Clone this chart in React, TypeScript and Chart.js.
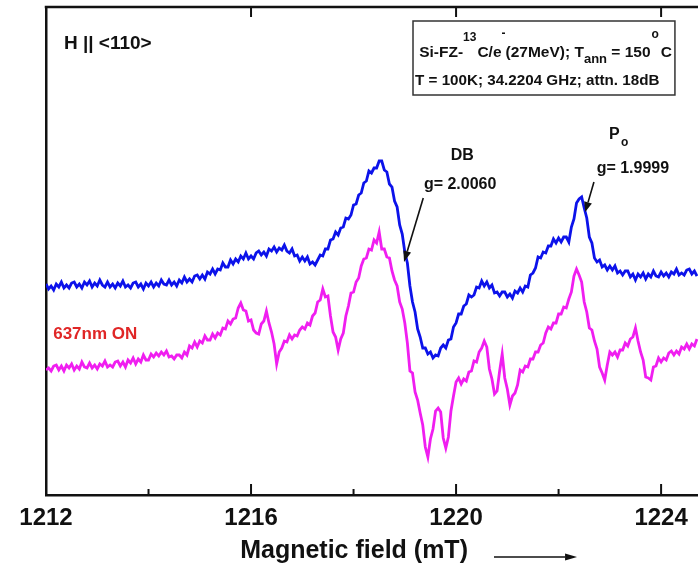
import React, { useEffect, useRef } from "react";
import { Chart, registerables } from "chart.js";

Chart.register(...registerables);

// Magnetic field axis (mT), 0.05 mT steps
const FIELD_START = 1212.0;
const FIELD_STEP = 0.05;
const X_MIN = 1212;
const X_MAX = 1224.72;
const Y_MIN = 0;
const Y_MAX = 488;
const MAJOR_TICKS = [1212, 1216, 1220, 1224];
const ALL_TICKS = [1212, 1214, 1216, 1218, 1220, 1222, 1224];

// EPR signal, dark (arbitrary units)
const darkSignal = [
  211, 206, 209, 205, 211, 208, 213, 207, 210, 207,
  212, 213, 208, 211, 207, 213, 210, 214, 208, 212,
  209, 215, 210, 208, 213, 208, 211, 207, 212, 209,
  214, 208, 210, 207, 212, 213, 208, 211, 206, 212,
  209, 213, 208, 212, 209, 215, 211, 210, 215, 210,
  213, 209, 215, 212, 218, 213, 216, 213, 219, 220,
  216, 220, 216, 223, 221, 226, 221, 226, 225, 232,
  228, 228, 235, 231, 236, 233, 239, 236, 242, 236,
  239, 236, 242, 244, 240, 243, 239, 246, 244, 248,
  243, 247, 245, 250, 244, 242, 246, 239, 240, 234,
  238, 234, 238, 231, 233, 230, 235, 240, 239, 246,
  246, 255, 256, 263, 260, 267, 268, 277, 276, 280,
  290, 291, 300, 302, 312, 314, 324, 322, 327, 327,
  334, 334, 325, 323, 311, 308, 294, 288, 270, 261,
  243, 232, 209, 193, 183, 166, 158, 147, 147, 141,
  143, 137, 140, 139, 147, 150, 147, 155, 156, 168,
  172, 181, 181, 189, 191, 200, 198, 200, 208, 207,
  214, 209, 213, 207, 210, 202, 203, 199, 203, 203,
  198, 201, 197, 204, 202, 207, 203, 209, 208, 220,
  222, 227, 238, 237, 243, 242, 249, 249, 256, 252,
  257, 253, 258, 258, 253, 268, 276, 292, 296, 298,
  287, 277, 258, 252, 237, 233, 235, 228, 230, 225,
  229, 225, 229, 222, 224, 220, 224, 224, 218, 221,
  215, 221, 218, 222, 216, 221, 218, 224, 219, 218,
  223, 219, 222, 218, 223, 221, 226, 220, 222, 220,
  225, 226, 221, 224, 219,
];

// EPR signal, 637nm illumination ON (arbitrary units)
const lightSignal = [
  125, 127, 124, 129, 130, 125, 129, 124, 130, 127,
  131, 125, 129, 126, 133, 128, 127, 132, 127, 130,
  126, 131, 129, 134, 128, 130, 128, 133, 134, 129,
  133, 128, 135, 132, 137, 131, 136, 133, 140, 135,
  135, 141, 138, 142, 139, 143, 140, 144, 138, 139,
  136, 140, 140, 137, 143, 140, 149, 147, 153, 148,
  154, 152, 159, 155, 155, 161, 157, 162, 160, 167,
  166, 174, 171, 176, 177, 187, 192, 185, 184, 174,
  175, 165, 162, 161, 171, 174, 184, 172, 163, 151,
  131, 143, 147, 154, 153, 160, 156, 160, 159, 165,
  168, 166, 172, 170, 179, 182, 193, 195, 206, 198,
  199, 179, 163, 158, 145, 156, 162, 179, 189, 202,
  203, 213, 217, 229, 236, 237, 246, 245, 255, 252,
  263, 246, 246, 238, 237, 224, 215, 209, 193, 186,
  172, 152, 124, 122, 103, 95, 82, 70, 48, 38,
  56, 66, 84, 87, 83, 57, 47, 58, 84, 99,
  113, 117, 111, 116, 114, 123, 124, 134, 133, 143,
  147, 154, 148, 126, 116, 101, 104, 124, 141, 117,
  106, 90, 99, 102, 110, 125, 123, 129, 128, 136,
  136, 143, 143, 150, 152, 162, 168, 166, 172, 172,
  181, 181, 188, 187, 196, 203, 219, 226, 220, 213,
  193, 183, 167, 165, 154, 146, 128, 122, 115, 130,
  143, 140, 143, 138, 145, 145, 152, 149, 156, 158,
  167, 154, 143, 135, 118, 117, 115, 128, 129, 137,
  133, 137, 135, 142, 144, 140, 144, 141, 148, 146,
  151, 146, 151, 149, 156,
];

const fieldValues = darkSignal.map((_, i) => +(FIELD_START + i * FIELD_STEP).toFixed(2));

const FONT = "'Liberation Sans', Arial, sans-serif";
const BLUE = "#0c12ea";
const MAGENTA = "#f01ef0";
const RED = "#e02626";

function drawArrow(ctx: CanvasRenderingContext2D, x1: number, y1: number, x2: number, y2: number, head: number, half: number, lw: number) {
  const ang = Math.atan2(y2 - y1, x2 - x1);
  const bx = x2 - head * Math.cos(ang);
  const by = y2 - head * Math.sin(ang);
  ctx.save();
  ctx.strokeStyle = "#111";
  ctx.fillStyle = "#111";
  ctx.lineWidth = lw;
  ctx.beginPath();
  ctx.moveTo(x1, y1);
  ctx.lineTo(bx, by);
  ctx.stroke();
  ctx.beginPath();
  ctx.moveTo(x2, y2);
  ctx.lineTo(bx + half * Math.sin(ang), by - half * Math.cos(ang));
  ctx.lineTo(bx - half * Math.sin(ang), by + half * Math.cos(ang));
  ctx.closePath();
  ctx.fill();
  ctx.restore();
}

const decorPlugin = {
  id: "decor",
  afterDraw(chart: any) {
    const ctx: CanvasRenderingContext2D = chart.ctx;
    const xs = chart.scales.x;
    const ys = chart.scales.y;
    const area = chart.chartArea;
    const X = (v: number) => xs.getPixelForValue(v);
    const Y = (v: number) => ys.getPixelForValue(v);
    ctx.save();
    // top frame
    ctx.strokeStyle = "#111";
    ctx.lineWidth = 2.5;
    ctx.beginPath();
    ctx.moveTo(area.left - 1.25, area.top);
    ctx.lineTo(area.right, area.top);
    ctx.stroke();
    // inward tick marks
    ctx.lineWidth = 2;
    ALL_TICKS.forEach((v) => {
      const x = X(v);
      const major = MAJOR_TICKS.includes(v);
      ctx.beginPath();
      ctx.moveTo(x, area.bottom);
      ctx.lineTo(x, area.bottom - (major ? 11 : 6));
      ctx.stroke();
      if (major && v !== X_MIN) {
        ctx.beginPath();
        ctx.moveTo(x, area.top);
        ctx.lineTo(x, area.top + 10);
        ctx.stroke();
      }
    });

    ctx.fillStyle = "#111";
    ctx.textBaseline = "alphabetic";
    // orientation label
    ctx.textAlign = "left";
    ctx.font = `bold 19px ${FONT}`;
    ctx.fillText("H || <110>", X(1212.35), Y(446));

    // info box
    ctx.strokeStyle = "#333";
    ctx.lineWidth = 1.5;
    const bx1 = X(1219.16), bx2 = X(1224.27), by1 = Y(474), by2 = Y(400);
    ctx.strokeRect(bx1, by1, bx2 - bx1, by2 - by1);
    const runs: [string, number, number, number][] = [
      ["Si-FZ-", 15.5, 0, 0],
      ["13", 12, -16, 1],
      ["C/e", 15.5, 0, 0],
      ["-", 12, -20, 0],
      ["(27MeV); T", 15.5, 0, 0],
      ["ann", 13, 6, 0],
      [" = 150", 15.5, 0, 1],
      ["o", 12, -19, 2],
      ["C", 15.5, 0, 0],
    ];
    let cx = X(1219.28);
    const base1 = Y(438);
    runs.forEach(([t, s, dy, gap]) => {
      ctx.font = `bold ${s}px ${FONT}`;
      ctx.fillText(t, cx, base1 + dy);
      cx += ctx.measureText(t).width + gap;
    });
    ctx.font = `bold 15.2px ${FONT}`;
    ctx.fillText("T = 100K; 34.2204 GHz; attn. 18dB", X(1219.2), Y(410));

    // DB annotation
    ctx.textAlign = "center";
    ctx.font = `bold 16px ${FONT}`;
    ctx.fillText("DB", X(1220.12), Y(335));
    ctx.fillText("g= 2.0060", X(1220.08), Y(306));
    drawArrow(ctx, X(1219.36), Y(297), X(1218.985), Y(233), 11, 4, 1.6);

    // Po annotation
    ctx.textAlign = "left";
    ctx.fillText("P", X(1222.985), Y(356));
    ctx.font = `bold 12px ${FONT}`;
    ctx.fillText("o", X(1223.22), Y(349));
    ctx.textAlign = "center";
    ctx.font = `bold 16px ${FONT}`;
    ctx.fillText("g= 1.9999", X(1223.45), Y(322));
    drawArrow(ctx, X(1222.69), Y(313), X(1222.52), Y(283), 10, 4, 1.6);

    // illumination label
    ctx.textAlign = "left";
    ctx.fillStyle = RED;
    ctx.font = `bold 17px ${FONT}`;
    ctx.fillText("637nm ON", X(1212.14), Y(156));

    // axis title and direction arrow
    ctx.fillStyle = "#111";
    ctx.textAlign = "center";
    ctx.font = `bold 25px ${FONT}`;
    ctx.fillText("Magnetic field (mT)", X(1218.01), area.bottom + 63);
    drawArrow(ctx, X(1220.74), area.bottom + 62, X(1222.36), area.bottom + 62, 12, 3.5, 1.5);
    ctx.restore();
  },
};

export default function App() {
  const ref = useRef<HTMLCanvasElement | null>(null);
  useEffect(() => {
    if (!ref.current) return;
    const chart = new Chart(ref.current, {
      type: "line",
      data: {
        datasets: [
          {
            label: "dark",
            data: fieldValues.map((x, i) => ({ x, y: darkSignal[i] })),
            borderColor: BLUE,
            borderWidth: 2.8,
            pointRadius: 0,
            tension: 0,
          },
          {
            label: "637nm ON",
            data: fieldValues.map((x, i) => ({ x, y: lightSignal[i] })),
            borderColor: MAGENTA,
            borderWidth: 2.8,
            pointRadius: 0,
            tension: 0,
          },
        ],
      },
      options: {
        animation: false,
        responsive: false,
        devicePixelRatio: 1,
        layout: { padding: { left: 46, top: 7, right: 0, bottom: 0 } },
        plugins: { legend: { display: false }, tooltip: { enabled: false } },
        scales: {
          x: {
            type: "linear",
            min: X_MIN,
            max: X_MAX,
            grid: { display: false, drawTicks: false },
            border: { display: true, color: "#111", width: 2.5 },
            ticks: {
              autoSkip: false,
              maxRotation: 0,
              padding: 9,
              color: "#111",
              font: { family: FONT, size: 24, weight: "bold" },
              callback: (v: any) => (MAJOR_TICKS.includes(Number(v)) ? String(v) : ""),
            },
            afterBuildTicks: (s: any) => {
              s.ticks = ALL_TICKS.map((v) => ({ value: v }));
            },
            afterFit: (s: any) => {
              s.height = 69;
            },
          },
          y: {
            min: Y_MIN,
            max: Y_MAX,
            grid: { display: false, drawTicks: false },
            border: { display: true, color: "#111", width: 2.5 },
            ticks: { display: false },
            afterFit: (s: any) => {
              s.width = 0;
            },
          },
        },
      } as any,
      plugins: [decorPlugin],
    });
    return () => chart.destroy();
  }, []);
  return (
    <div style={{ position: "absolute", left: 0, top: 0, width: 698, height: 564, background: "#fff" }}>
      <canvas ref={ref} width={698} height={564} style={{ display: "block" }} />
    </div>
  );
}
